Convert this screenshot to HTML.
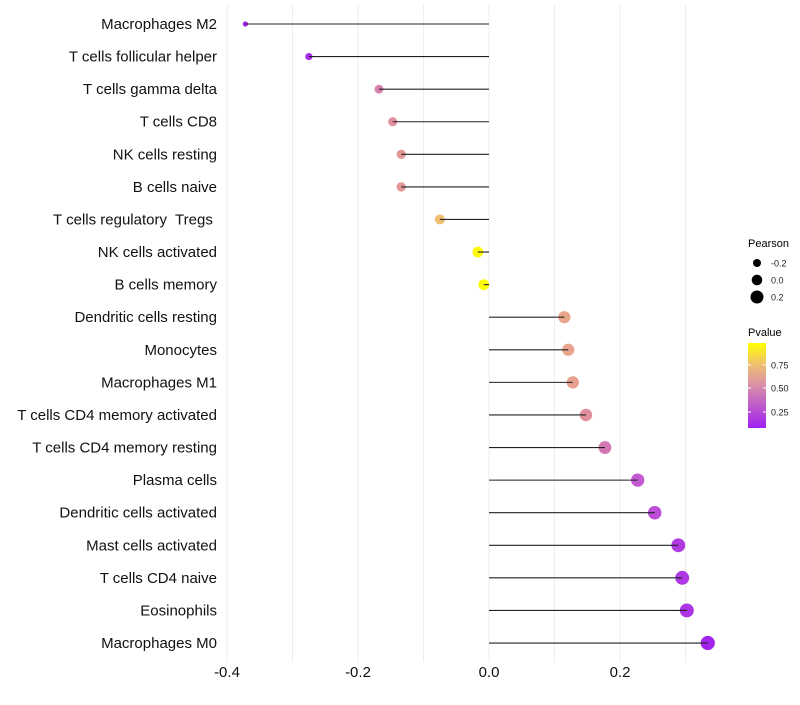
<!DOCTYPE html>
<html><head><meta charset="utf-8"><style>
body{margin:0;background:#fff;font-family:"Liberation Sans",sans-serif}
text{white-space:pre}
</style></head><body>
<svg id="chart" width="800" height="700" xmlns="http://www.w3.org/2000/svg">
<g id="grid"></g>
<g id="marks"></g>
<g id="ylabels"></g>
<g id="xlabels"></g>
<g id="legend"></g>
</svg>
<script>
const categories=["Macrophages M2","T cells follicular helper","T cells gamma delta","T cells CD8","NK cells resting","B cells naive","T cells regulatory  Tregs ","NK cells activated","B cells memory","Dendritic cells resting","Monocytes","Macrophages M1","T cells CD4 memory activated","T cells CD4 memory resting","Plasma cells","Dendritic cells activated","Mast cells activated","T cells CD4 naive","Eosinophils","Macrophages M0"];
const pearson=[-0.372,-0.275,-0.168,-0.147,-0.134,-0.134,-0.075,-0.017,-0.008,0.115,0.121,0.128,0.148,0.177,0.227,0.253,0.289,0.295,0.302,0.334];
const pvalues=[0.1,0.12,0.45,0.52,0.56,0.56,0.78,0.98,0.99,0.64,0.63,0.61,0.52,0.42,0.3,0.25,0.18,0.17,0.16,0.1];
const xTicks=[-0.4,-0.2,0.0,0.2];
const xTickLabels=["-0.4","-0.2","0.0","0.2"];
const NS="http://www.w3.org/2000/svg";
const x=v=>489+v*655;
const y=i=>24+i*32.58;
const r=v=>Math.sqrt(Math.max(4,30+62*v));
function lerp(a,b,t){return a.map((c,k)=>Math.round(c+(b[k]-c)*t));}
const stops=[[0.08,[160,32,240]],[0.3,[195,90,210]],[0.5,[222,140,160]],[0.65,[234,168,138]],[0.8,[242,195,110]],[1,[255,255,0]]];
function color(p){
  if(p<=stops[0][0])return `rgb(${stops[0][1]})`;
  for(let k=1;k<stops.length;k++){if(p<=stops[k][0]){const a=stops[k-1],b=stops[k];return `rgb(${lerp(a[1],b[1],(p-a[0])/(b[0]-a[0]))})`;}}
  return "rgb(255,255,0)";
}
function mk(tag,attrs,parent){const e=document.createElementNS(NS,tag);for(const k in attrs)e.setAttribute(k,attrs[k]);parent.appendChild(e);return e;}
const grid=document.getElementById('grid');
for(let k=-4;k<=3;k++){
  const v=k/10;
  const l=mk('line',{x1:x(v),x2:x(v),y1:5,y2:662,stroke:'#ededed','stroke-width':1},grid);
  
  
}
const marks=document.getElementById('marks'),yl=document.getElementById('ylabels');
categories.forEach((c,i)=>{
  const d=mk('circle',{cx:x(pearson[i]),cy:y(i),r:r(pearson[i]),fill:color(pvalues[i])},marks);
  
  
  const t=mk('text',{x:217,y:y(i)+5,'text-anchor':'end','font-size':15,fill:'#111'},yl);
  t.textContent=c;
  
  
});
categories.forEach((c,i)=>{
  const ln=mk('line',{x1:x(0),x2:x(pearson[i]),y1:y(i),y2:y(i),stroke:'#222','stroke-width':1.1},marks);
  
  
});
const xl=document.getElementById('xlabels');
xTicks.forEach((v,i)=>{
  const t=mk('text',{x:x(v),y:677,'text-anchor':'middle','font-size':15,fill:'#111'},xl);
  t.textContent=xTickLabels[i];
  
  
});
const lg=document.getElementById('legend');
let e=mk('text',{x:748,y:247,'font-size':11,fill:'#000'},lg);e.textContent='Pearson';


[[-0.2,263,4],[0.0,280,5.3],[0.2,297,6.5]].forEach(([v,yy,rr])=>{
  const c=mk('circle',{cx:757,cy:yy,r:rr,fill:'#000'},lg);
  
  
  const t=mk('text',{x:771,y:yy+3.5,'font-size':9,fill:'#222'},lg);t.textContent=v.toFixed(1);
  
  
});
e=mk('text',{x:748,y:336,'font-size':11,fill:'#000'},lg);e.textContent='Pvalue';


const defs=mk('defs',{},lg);
const gr=mk('linearGradient',{id:'pg',x1:0,y1:1,x2:0,y2:0},defs);
[[0,'#a020f0'],[0.5,'#d88fa8'],[0.75,'#f0c070'],[1,'#ffff00']].forEach(([o,c])=>mk('stop',{offset:o,'stop-color':c},gr));
e=mk('rect',{x:748,y:343,width:18,height:85,fill:'url(#pg)'},lg);


[[0.75,365],[0.5,388],[0.25,412]].forEach(([v,yy])=>{
  mk('line',{x1:748,x2:751,y1:yy,y2:yy,stroke:'#fff'},lg);
  mk('line',{x1:763,x2:766,y1:yy,y2:yy,stroke:'#fff'},lg);
  const t=mk('text',{x:771,y:yy+3.5,'font-size':9,fill:'#222'},lg);t.textContent=v.toFixed(2);
  
  
});
</script>
</body></html>
